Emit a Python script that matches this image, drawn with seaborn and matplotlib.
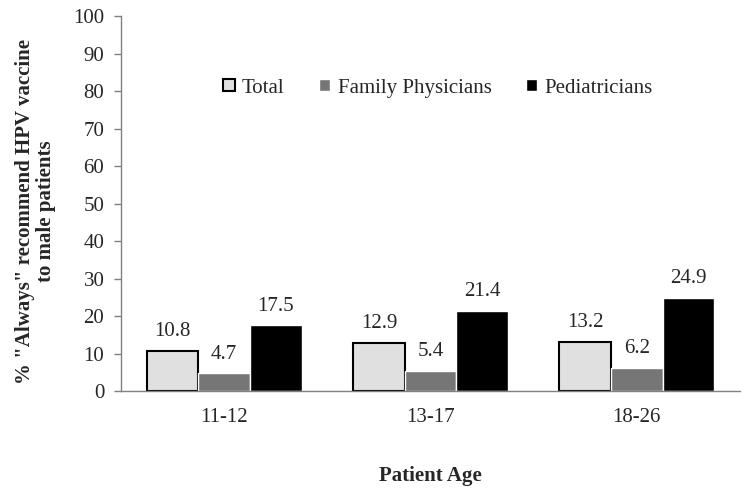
import pandas as pd
import matplotlib.pyplot as plt
import seaborn as sns

ages = ["11-12", "13-17", "18-26"]
groups = ["Total", "Family Physicians", "Pediatricians"]
total = [10.8, 12.9, 13.2]
family = [4.7, 5.4, 6.2]
pediatric = [17.5, 21.4, 24.9]
colors = ["#e0e0e0", "#767676", "#000000"]

rows = []
for g, vals in zip(groups, [total, family, pediatric]):
    for a, v in zip(ages, vals):
        rows.append({"age": a, "group": g, "value": v})
df = pd.DataFrame(rows)

sns.set_theme(style="white")
plt.rcParams["font.family"] = ["Liberation Serif", "DejaVu Serif"]

fig = plt.figure(figsize=(7.49, 4.93), dpi=100)
ax = fig.add_axes([0.1616, 0.2069, 0.8264, 0.7606])

sns.barplot(data=df, x="age", y="value", hue="group", order=ages, hue_order=groups,
            palette=colors, width=0.75, saturation=1, errorbar=None, ax=ax)

# outline only on the light "Total" bars
for bar in ax.containers[0]:
    bar.set_edgecolor("black")
    bar.set_linewidth(1.5)
for c in ax.containers:
    ax.bar_label(c, fmt="%.1f", padding=7, fontsize=15)

ax.set_ylim(0, 100)
ax.set_yticks(range(0, 101, 10))
ax.set_xlim(-0.5, 2.5)
ax.tick_params(axis="y", labelsize=15, left=True, length=5, color="#808080", width=1, pad=7)
ax.tick_params(axis="x", labelsize=15, bottom=False, pad=6)
for s in ["top", "right"]:
    ax.spines[s].set_visible(False)
for s in ["left", "bottom"]:
    ax.spines[s].set_color("#808080")
    ax.spines[s].set_linewidth(1)

ax.set_xlabel("Patient Age", fontsize=15, fontweight="bold")
ax.xaxis.set_label_coords(0.5, -0.2)
ax.set_ylabel("% \"Always\" recommend HPV vaccine\nto male patients", fontsize=15,
              fontweight="bold", linespacing=1.1)
ax.yaxis.set_label_coords(-0.105, 0.48)

leg = ax.legend(loc="center", bbox_to_anchor=(0.512, 0.808), ncol=3, frameon=False,
                fontsize=15, handlelength=0.55, handleheight=0.55, handletextpad=0.35,
                columnspacing=1.65)
leg.legend_handles[0].set_edgecolor("black")
leg.legend_handles[0].set_linewidth(1.5)

fig.savefig("out.png", dpi=100)
plt.close(fig)
